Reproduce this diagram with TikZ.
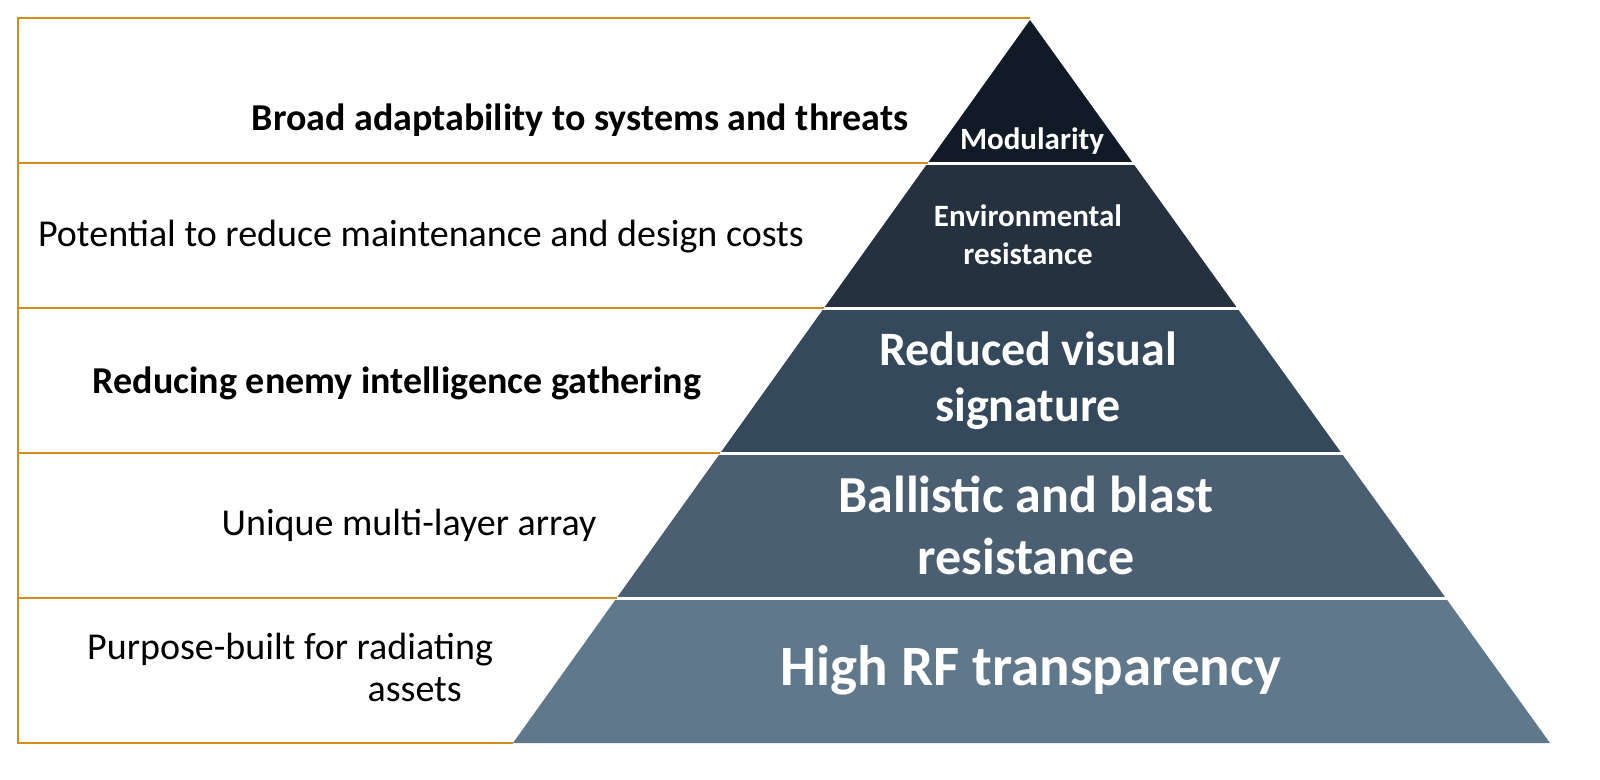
\documentclass[tikz,border=0pt]{standalone}
\usepackage{fontspec}
\setmainfont{Carlito}
\begin{document}
\begin{tikzpicture}[x=1pt,y=-1pt,
  ob/.style={draw={rgb,255:red,214;green,140;blue,20},line width=2.2pt},
  lt/.style={font=\fontsize{38}{46}\selectfont,text=black,inner sep=0},
  lb/.style={font=\bfseries\fontsize{38}{46}\selectfont,text=black,inner sep=0},
  pt/.style={text=white,align=center,inner sep=0}]
\fill[white] (0,0) rectangle (1600,779);
\def\xl#1{(1030-0.7151*(#1-20))}
\def\xr#1{(1030+0.7192*(#1-20))}
\definecolor{c1}{HTML}{101B27}
\definecolor{c2}{HTML}{25313F}
\definecolor{c3}{HTML}{34495B}
\definecolor{c4}{HTML}{4A5F72}
\definecolor{c5}{HTML}{5F788C}
\fill[c1] (1030,20) -- ({\xr{163}},163) -- ({\xl{163}},163) -- cycle;
\fill[c2] ({\xl{163}},163) -- ({\xr{163}},163) -- ({\xr{308}},308) -- ({\xl{308}},308) -- cycle;
\fill[c3] ({\xl{308}},308) -- ({\xr{308}},308) -- ({\xr{453}},453) -- ({\xl{453}},453) -- cycle;
\fill[c4] ({\xl{453}},453) -- ({\xr{453}},453) -- ({\xr{598}},598) -- ({\xl{598}},598) -- cycle;
\fill[c5] ({\xl{598}},598) -- ({\xr{598}},598) -- ({\xr{743}},743) -- ({\xl{743}},743) -- cycle;
\foreach \y in {163,308,453,598}{\draw[white,line width=3pt] ({\xl{\y}-3},\y) -- ({\xr{\y}+3},\y);}
% orange frame
\draw[ob] (1030,18) -- (18,18) -- (18,743) -- ({\xl{743}},743);
\foreach \y in {163,308,453,598}{\draw[ob] (18,\y) -- ({\xl{\y}},\y);}
% pyramid labels
\node[pt,font=\bfseries\fontsize{31}{36}\selectfont] (m) at (1032,141) {Modularity};
\node[pt,font=\bfseries\fontsize{31}{38}\selectfont] (e) at (1028,235) {Environmental\\resistance};
\node[pt,font=\bfseries\fontsize{48}{56}\selectfont] (r) at (1028,381) {Reduced visual\\signature};
\node[pt,font=\bfseries\fontsize{52}{62}\selectfont] (b) at (1026,525) {Ballistic and blast\\resistance};
\node[pt,font=\bfseries\fontsize{57}{66}\selectfont] (h) at (1031,670) {High RF transparency};
% left labels
\node[lb] (l1) at (580,120) {Broad adaptability to systems and threats};
\node[lt] (l2) at (421,237) {Potential to reduce maintenance and design costs};
\node[lb] (l3) at (397,383) {Reducing enemy intelligence gathering};
\node[lt] (l4) at (409,525) {Unique multi-layer array};
\node[lt,anchor=west] (l5) at (87,650) {Purpose-built for radiating};
\node[lt,anchor=east] (l6) at (462,690) {assets};
\pgfresetboundingbox
\path[use as bounding box] (0,0) rectangle (1600,779);
\end{tikzpicture}
\end{document}
